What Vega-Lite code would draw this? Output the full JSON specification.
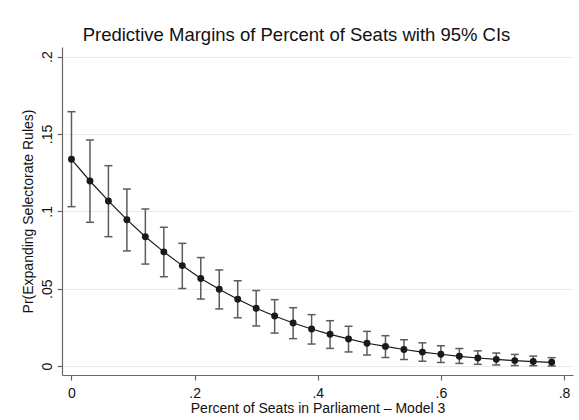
{
  "$schema": "https://vega.github.io/schema/vega-lite/v6.json",
  "autosize": {"type": "none"},
  "width": 511,
  "height": 328,
  "padding": {"left": 62, "top": 47, "right": 6, "bottom": 45},
  "background": "white",
  "title": {
    "text": "Predictive Margins of Percent of Seats with 95% CIs",
    "font": "Liberation Sans",
    "fontSize": 18.5,
    "fontWeight": "normal",
    "color": "#111111",
    "anchor": "middle",
    "frame": "group",
    "dx": -21,
    "dy": 17,
    "baseline": "alphabetic",
    "offset": 5
  },
  "data": {
    "values": [
      {"seats": 0.00, "pr": 0.1336, "lo": 0.1030, "hi": 0.1644},
      {"seats": 0.03, "pr": 0.1196, "lo": 0.0929, "hi": 0.1461},
      {"seats": 0.06, "pr": 0.1067, "lo": 0.0836, "hi": 0.1295},
      {"seats": 0.09, "pr": 0.0946, "lo": 0.0744, "hi": 0.1144},
      {"seats": 0.12, "pr": 0.0836, "lo": 0.0659, "hi": 0.1015},
      {"seats": 0.15, "pr": 0.0738, "lo": 0.0577, "hi": 0.0897},
      {"seats": 0.18, "pr": 0.0649, "lo": 0.0501, "hi": 0.0793},
      {"seats": 0.21, "pr": 0.0566, "lo": 0.0433, "hi": 0.0701},
      {"seats": 0.24, "pr": 0.0496, "lo": 0.0369, "hi": 0.0621},
      {"seats": 0.27, "pr": 0.0432, "lo": 0.0312, "hi": 0.0551},
      {"seats": 0.30, "pr": 0.0373, "lo": 0.0259, "hi": 0.0488},
      {"seats": 0.33, "pr": 0.0323, "lo": 0.0213, "hi": 0.0429},
      {"seats": 0.36, "pr": 0.0278, "lo": 0.0177, "hi": 0.0377},
      {"seats": 0.39, "pr": 0.0239, "lo": 0.0142, "hi": 0.0332},
      {"seats": 0.42, "pr": 0.0205, "lo": 0.0114, "hi": 0.0293},
      {"seats": 0.45, "pr": 0.0175, "lo": 0.0091, "hi": 0.0257},
      {"seats": 0.48, "pr": 0.0147, "lo": 0.0071, "hi": 0.0224},
      {"seats": 0.51, "pr": 0.0127, "lo": 0.0055, "hi": 0.0196},
      {"seats": 0.54, "pr": 0.0107, "lo": 0.0042, "hi": 0.0170},
      {"seats": 0.57, "pr": 0.0090, "lo": 0.0031, "hi": 0.0150},
      {"seats": 0.60, "pr": 0.0076, "lo": 0.0023, "hi": 0.0131},
      {"seats": 0.63, "pr": 0.0063, "lo": 0.0017, "hi": 0.0113},
      {"seats": 0.66, "pr": 0.0052, "lo": 0.0011, "hi": 0.0098},
      {"seats": 0.69, "pr": 0.0043, "lo": 0.0007, "hi": 0.0084},
      {"seats": 0.72, "pr": 0.0035, "lo": 0.0003, "hi": 0.0075},
      {"seats": 0.75, "pr": 0.0029, "lo": 0.0002, "hi": 0.0064},
      {"seats": 0.78, "pr": 0.0024, "lo": 0.0000, "hi": 0.0054}
    ]
  },
  "encoding": {
    "x": {
      "field": "seats",
      "type": "quantitative",
      "scale": {"domain": [-0.0154, 0.8146], "nice": false, "zero": false},
      "axis": {
        "title": "Percent of Seats in Parliament \u2013 Model 3",
        "values": [0, 0.2, 0.4, 0.6, 0.8],
        "labelExpr": "datum.value == 0 ? '0' : substring(format(datum.value, '.1~f'), 1)",
        "labelPadding": 6,
        "titlePadding": 1,
        "grid": false
      }
    },
    "y": {
      "field": "pr",
      "type": "quantitative",
      "scale": {"domain": [-0.0058, 0.2062], "nice": false, "zero": false},
      "axis": {
        "title": "Pr(Expanding Selectorate Rules)",
        "values": [0, 0.05, 0.1, 0.15, 0.2],
        "labelExpr": "datum.value == 0 ? '0' : substring(format(datum.value, '.2~f'), 1)",
        "labelAngle": -90,
        "labelAlign": "center",
        "labelBaseline": "bottom",
        "labelPadding": 3,
        "titlePadding": 5,
        "grid": true
      }
    }
  },
  "layer": [
    {
      "mark": {"type": "rule", "color": "#5c5c5c", "strokeWidth": 1.5},
      "encoding": {"y": {"field": "lo", "type": "quantitative"}, "y2": {"field": "hi"}}
    },
    {
      "mark": {"type": "tick", "orient": "horizontal", "color": "#5c5c5c", "size": 8, "thickness": 1.5, "opacity": 1},
      "encoding": {"y": {"field": "lo", "type": "quantitative"}}
    },
    {
      "mark": {"type": "tick", "orient": "horizontal", "color": "#5c5c5c", "size": 8, "thickness": 1.5, "opacity": 1},
      "encoding": {"y": {"field": "hi", "type": "quantitative"}}
    },
    {
      "mark": {"type": "line", "color": "#1a1a1a", "strokeWidth": 1.2},
      "encoding": {}
    },
    {
      "mark": {"type": "point", "filled": true, "color": "#1a1a1a", "size": 48, "opacity": 1},
      "encoding": {}
    }
  ],
  "config": {
    "view": {"stroke": null},
    "font": "Liberation Sans",
    "axis": {
      "domainColor": "#666666",
      "domainWidth": 1.2,
      "tickColor": "#666666",
      "tickSize": 5,
      "tickWidth": 1.2,
      "labelFont": "Liberation Sans",
      "labelFontSize": 14,
      "labelColor": "#111111",
      "titleFont": "Liberation Sans",
      "titleFontSize": 14,
      "titleFontWeight": "normal",
      "titleColor": "#111111",
      "gridColor": "#ebebeb",
      "gridWidth": 1.2
    }
  }
}
